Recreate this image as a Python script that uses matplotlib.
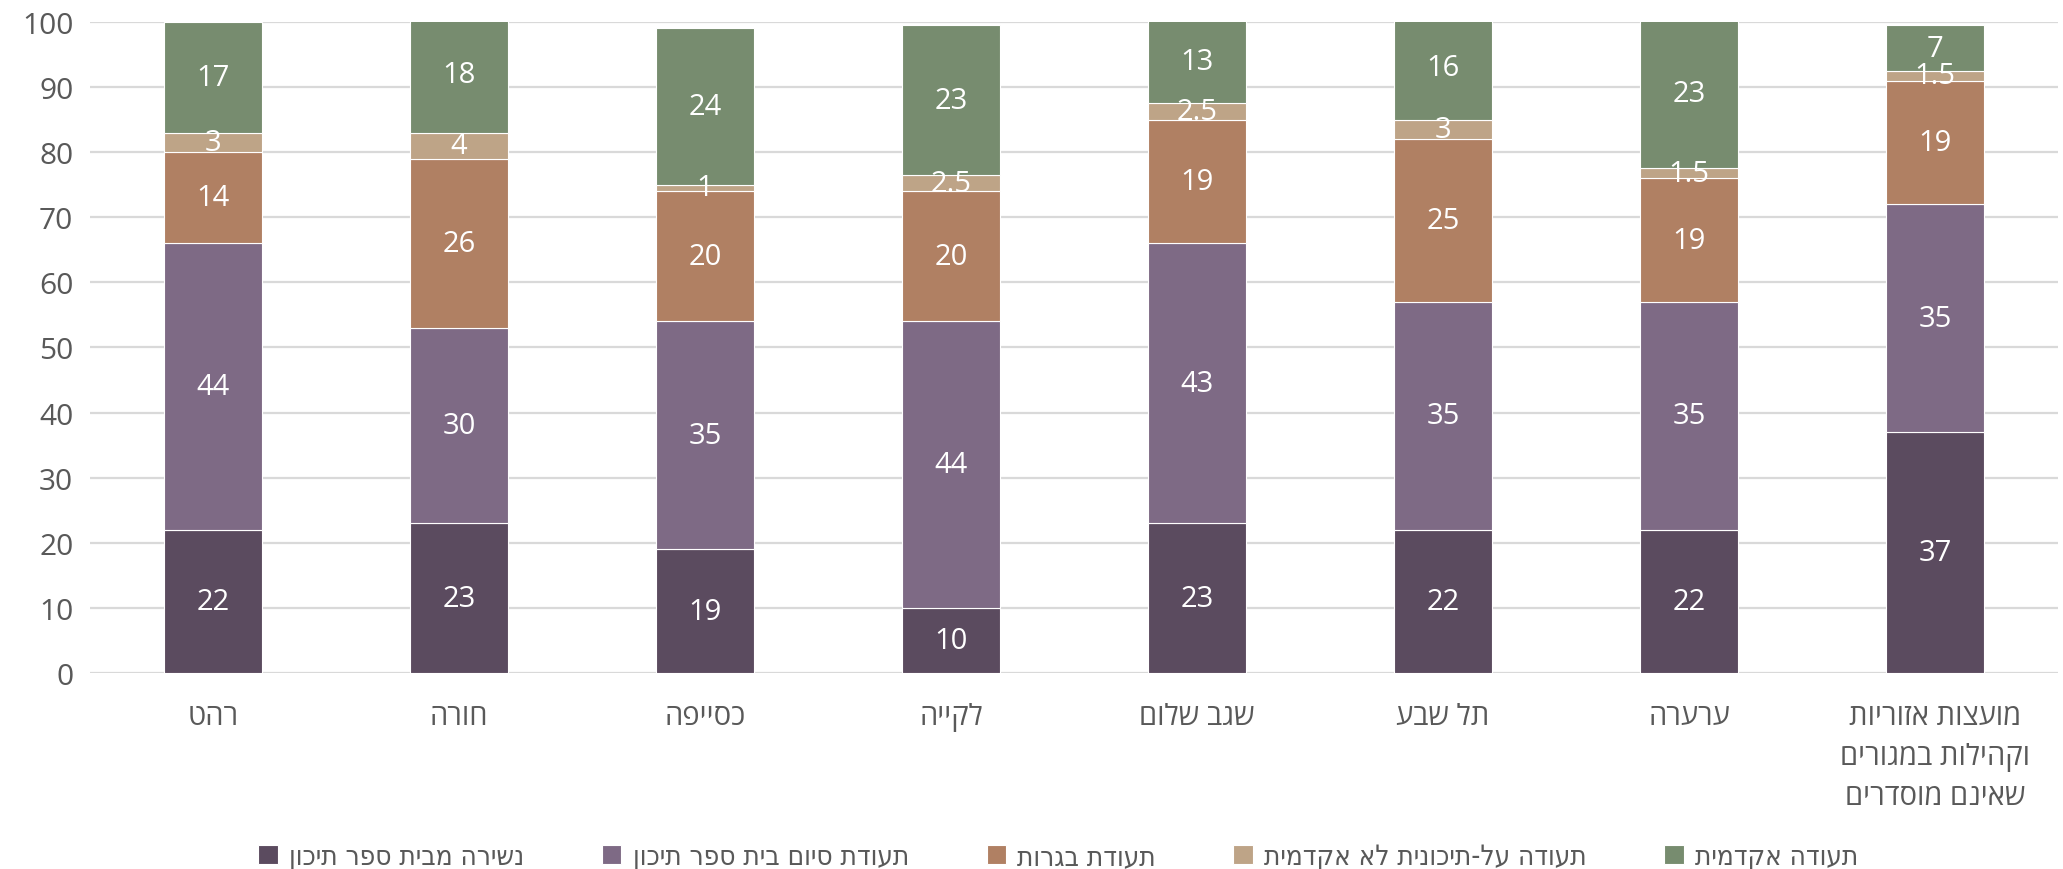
import numpy as np
import matplotlib
matplotlib.use('Agg')
import matplotlib.pyplot as plt


def rtl(s):
    # matplotlib has no bidi layout, so flip each line of Hebrew text
    return '\n'.join(line[::-1] for line in s.split('\n'))


categories = ['רהט', 'חורה', 'כסייפה', 'לקייה', 'שגב שלום', 'תל שבע', 'ערערה',
              'מועצות אזוריות\nוקהילות במגורים\nשאינם מוסדרים']

series_names = ['נשירה מבית ספר תיכון', 'תעודת סיום בית ספר תיכון', 'תעודת בגרות',
                'תעודה על-תיכונית לא אקדמית', 'תעודה אקדמית']

dropout = [22, 23, 19, 10, 23, 22, 22, 37]
hs_diploma = [44, 30, 35, 44, 43, 35, 35, 35]
bagrut = [14, 26, 20, 20, 19, 25, 19, 19]
post_secondary = [3, 4, 1, 2.5, 2.5, 3, 1.5, 1.5]
academic = [17, 18, 24, 23, 13, 16, 23, 7]

colors = ['#5B4B5F', '#7E6A85', '#B08063', '#BEA487', '#778C6F']

plt.rcParams['font.family'] = ['Open Sans', 'DejaVu Sans']

fig = plt.figure(figsize=(20.63, 8.7), dpi=100)
ax = fig.add_axes([0.0436, 0.2253, 0.954, 0.7483])

x = np.arange(len(categories))
bottom = np.zeros(len(categories))
handles = []
for name, vals, col in zip(series_names,
                           [dropout, hs_diploma, bagrut, post_secondary, academic],
                           colors):
    vals = np.array(vals, dtype=float)
    b = ax.bar(x, vals, 0.4, bottom=bottom, color=col, edgecolor='white',
               linewidth=0.8, zorder=3, label=rtl(name))
    handles.append(b)
    for xi, v, b0 in zip(x, vals, bottom):
        ax.text(xi, b0 + v / 2, '{:g}'.format(v), ha='center', va='center',
                color='white', fontsize=21, zorder=4)
    bottom += vals

ax.set_xlim(-0.5, len(categories) - 0.5)
ax.set_ylim(0, 100)
ax.set_yticks(range(0, 101, 10))
ax.set_xticks(x)
ax.set_xticklabels([rtl(c) for c in categories], fontsize=21, color='#595959',
                   linespacing=1.5)
ax.tick_params(axis='y', labelsize=21.5, labelcolor='#595959', length=0, pad=12)
ax.tick_params(axis='x', length=0, pad=21)
ax.yaxis.grid(True, color='#D9D9D9', linewidth=1.6, zorder=0)
ax.set_axisbelow(True)
for sp in ax.spines.values():
    sp.set_visible(False)

fig.legend(handles=handles, loc='lower center', bbox_to_anchor=(0.513, -0.03),
           ncol=5, frameon=False, handlelength=0.7, handleheight=0.7,
           handletextpad=0.4, columnspacing=2.8, labelcolor='#595959',
           prop={'family': ['Liberation Sans Narrow', 'DejaVu Sans'], 'size': 20,
                 'stretch': 'condensed'})

fig.savefig('out.png', dpi=100)
